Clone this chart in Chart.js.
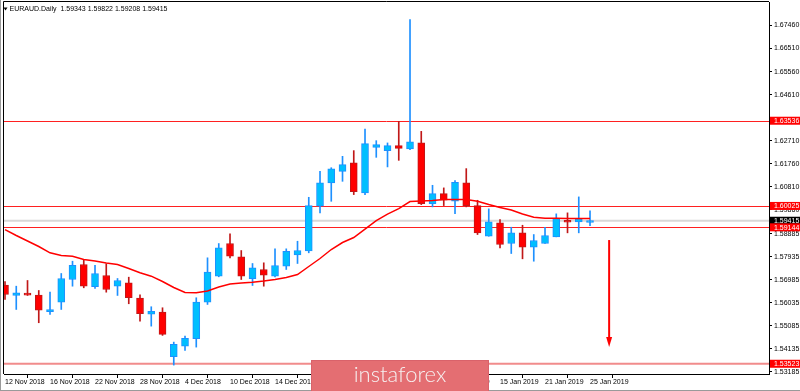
<!DOCTYPE html>
<html lang="en">
<head>
<meta charset="UTF-8">
<title>EURAUD Daily</title>
<script src="https://cdn.jsdelivr.net/npm/chart.js@4"></script>
<style>
    html, body { margin: 0; padding: 0; background: #fff; }
    #wrap { width: 800px; height: 391px; position: relative; }
</style>
</head>
<body>
<div id="wrap"><canvas id="chart" width="800" height="391"></canvas></div>
<script>
// daily bars, 12 Nov 2018 .. 25 Jan 2019
const dates = [
    '12 Nov 2018', '13 Nov 2018', '14 Nov 2018', '15 Nov 2018', '16 Nov 2018',
    '19 Nov 2018', '20 Nov 2018', '21 Nov 2018', '22 Nov 2018', '23 Nov 2018',
    '26 Nov 2018', '27 Nov 2018', '28 Nov 2018', '29 Nov 2018', '30 Nov 2018',
    '3 Dec 2018', '4 Dec 2018', '5 Dec 2018', '6 Dec 2018', '7 Dec 2018',
    '10 Dec 2018', '11 Dec 2018', '12 Dec 2018', '13 Dec 2018', '14 Dec 2018',
    '17 Dec 2018', '18 Dec 2018', '19 Dec 2018', '20 Dec 2018', '21 Dec 2018',
    '24 Dec 2018', '26 Dec 2018', '27 Dec 2018', '28 Dec 2018', '31 Dec 2018',
    '2 Jan 2019', '3 Jan 2019', '4 Jan 2019', '7 Jan 2019', '8 Jan 2019',
    '9 Jan 2019', '10 Jan 2019', '11 Jan 2019', '14 Jan 2019', '15 Jan 2019',
    '16 Jan 2019', '17 Jan 2019', '18 Jan 2019', '21 Jan 2019', '22 Jan 2019',
    '23 Jan 2019', '24 Jan 2019', '25 Jan 2019'
];
const opens = [
    1.56760, 1.56337, 1.56419, 1.56349, 1.55666, 1.56061, 1.56995, 1.57612, 1.56695, 1.57160,
    1.56719, 1.56859, 1.56226, 1.55567, 1.55649, 1.53814, 1.54250, 1.54555, 1.56061, 1.57131,
    1.58476, 1.57929, 1.57024, 1.57407, 1.57131, 1.57542, 1.58003, 1.58168, 1.60012, 1.60974,
    1.61452, 1.61797, 1.60563, 1.62439, 1.62304, 1.62509, 1.62374, 1.62621, 1.60123, 1.60534,
    1.60217, 1.60974, 1.60040, 1.58777, 1.59328, 1.58476, 1.58917, 1.58324, 1.58476, 1.58752,
    1.59435, 1.59370, 1.59343
];
const highs = [
    1.56913, 1.56719, 1.56954, 1.56542, 1.56472, 1.57242, 1.57748, 1.57818, 1.57583, 1.57641,
    1.57036, 1.57090, 1.56365, 1.55872, 1.55830, 1.54415, 1.54662, 1.56242, 1.57888, 1.58476,
    1.58876, 1.58188, 1.57654, 1.57682, 1.58258, 1.58258, 1.58571, 1.60382, 1.61452, 1.61600,
    1.62069, 1.62304, 1.63197, 1.62715, 1.62621, 1.63509, 1.67700, 1.63098, 1.60876, 1.60769,
    1.61069, 1.61563, 1.60258, 1.59905, 1.59464, 1.59147, 1.59230, 1.58847, 1.59147, 1.59699,
    1.59740, 1.60398, 1.59822
];
const lows = [
    1.56172, 1.55760, 1.56337, 1.55213, 1.55555, 1.55760, 1.56719, 1.56653, 1.56625, 1.56472,
    1.56337, 1.55995, 1.55279, 1.55073, 1.54691, 1.53468, 1.54073, 1.54209, 1.55966, 1.57106,
    1.57888, 1.56995, 1.56748, 1.56719, 1.57106, 1.57407, 1.57654, 1.58094, 1.59740, 1.60217,
    1.61040, 1.60493, 1.60493, 1.62028, 1.61633, 1.61904, 1.62345, 1.60081, 1.59987, 1.60040,
    1.59711, 1.59987, 1.58847, 1.58777, 1.58300, 1.58065, 1.57847, 1.57748, 1.58476, 1.58752,
    1.58917, 1.58917, 1.59208
];
const closes = [
    1.56378, 1.56448, 1.56349, 1.55732, 1.55760, 1.57036, 1.57583, 1.56719, 1.57242, 1.56583,
    1.56954, 1.56242, 1.55583, 1.55678, 1.54732, 1.54320, 1.54567, 1.56061, 1.57296, 1.58300,
    1.57954, 1.57131, 1.57477, 1.57172, 1.57571, 1.58160, 1.58188, 1.60040, 1.60974, 1.61551,
    1.61728, 1.60616, 1.62592, 1.62551, 1.62509, 1.62398, 1.62662, 1.60123, 1.60534, 1.60258,
    1.60999, 1.60040, 1.58917, 1.59370, 1.58435, 1.58917, 1.58324, 1.58600, 1.58806, 1.59505,
    1.59353, 1.59493, 1.59415
];
// moving average (red line)
const ma = [
    1.59053, 1.58806, 1.58579, 1.58353, 1.58094, 1.57983, 1.57954, 1.57818, 1.57756, 1.57674,
    1.57612, 1.57448, 1.57271, 1.57131, 1.56913, 1.56666, 1.56460, 1.56448, 1.56522, 1.56686,
    1.56810, 1.56851, 1.56884, 1.56933, 1.56995, 1.57077, 1.57201, 1.57530, 1.57859, 1.58230,
    1.58518, 1.58723, 1.59073, 1.59423, 1.59690, 1.59917, 1.60205, 1.60226, 1.60246, 1.60287,
    1.60287, 1.60287, 1.60217, 1.60081, 1.59958, 1.59855, 1.59690, 1.59559, 1.59518, 1.59518,
    1.59505, 1.59505, 1.59505
];
const yTicks = [
    1.67460, 1.66510, 1.65560, 1.64610, 1.62710, 1.61760, 1.60810, 1.59860,
    1.58885, 1.57935, 1.56985, 1.56035, 1.55085, 1.54135, 1.53185
];
const xTickIdx = [0, 4, 8, 12, 16, 20, 24, 28, 32, 36, 40, 44, 48, 52];
const levels = [1.63536, 1.60025, 1.59144];
const supportLevel = 1.53523;
const bid = 1.59415;
const arrow = { x: 53.7, from: 1.5862, to: 1.5421 };

const BULL = '#00BFFF', BULL_EDGE = '#1E90FF';
const BEAR = '#FF0000', BEAR_EDGE = '#C01818';
const FONT = 'Liberation Sans';

const isBull = opens.map((o, i) => closes[i] >= o);

function hline(ctx, x1, x2, y) {
    ctx.beginPath();
    ctx.moveTo(x1, y);
    ctx.lineTo(x2, y);
    ctx.stroke();
}

function tag(ctx, area, y, text, bg) {
    ctx.fillStyle = bg;
    ctx.fillRect(area.right + 1, y - 4, 31, 8);
    ctx.fillStyle = '#fff';
    ctx.font = '7px ' + FONT;
    ctx.textAlign = 'left';
    ctx.textBaseline = 'middle';
    ctx.fillText(text, area.right + 5, y + 0.5);
}

// no extra label padding, so the plot box is exactly where the picture has it
function noPad(s) {
    s.paddingTop = 0;
    s.paddingBottom = 0;
    s.paddingLeft = 0;
    s.paddingRight = 0;
}

const overlay = {
    id: 'overlay',
    beforeDatasetsDraw(chart) {
        const { ctx, chartArea: a, scales: { y } } = chart;
        ctx.save();
        ctx.strokeStyle = '#D8D8D8';
        ctx.lineWidth = 2;
        hline(ctx, a.left, a.right, y.getPixelForValue(bid));
        ctx.strokeStyle = 'rgba(238,120,120,0.85)';
        ctx.lineWidth = 2;
        hline(ctx, a.left, a.right, y.getPixelForValue(supportLevel));
        ctx.strokeStyle = '#FF2020';
        ctx.lineWidth = 1;
        levels.forEach(v => hline(ctx, a.left, a.right, Math.round(y.getPixelForValue(v)) + 0.5));
        ctx.restore();
    },
    afterDraw(chart) {
        const { ctx, chartArea: a, scales: { x, y } } = chart;
        ctx.save();

        // frame
        ctx.strokeStyle = '#000';
        ctx.lineWidth = 1;
        ctx.beginPath();
        ctx.moveTo(a.left - 0.5, a.bottom);
        ctx.lineTo(a.left - 0.5, a.top - 0.5);
        ctx.lineTo(a.right, a.top - 0.5);
        ctx.stroke();
        ctx.strokeStyle = '#9a9a9a';
        ctx.beginPath();
        ctx.moveTo(0.5, 0);
        ctx.lineTo(0.5, 391);
        ctx.moveTo(0, 390.5);
        ctx.lineTo(800, 390.5);
        ctx.stroke();

        // arrow
        const ax = x.getPixelForValue(arrow.x);
        const ay1 = y.getPixelForValue(arrow.from);
        const ay2 = y.getPixelForValue(arrow.to);
        ctx.strokeStyle = '#FF0000';
        ctx.fillStyle = '#FF0000';
        ctx.lineWidth = 2;
        ctx.beginPath();
        ctx.moveTo(ax, ay1);
        ctx.lineTo(ax, ay2 - 8);
        ctx.stroke();
        ctx.beginPath();
        ctx.moveTo(ax - 3, ay2 - 10);
        ctx.lineTo(ax + 3, ay2 - 10);
        ctx.lineTo(ax, ay2);
        ctx.closePath();
        ctx.fill();

        // price tags
        tag(ctx, a, y.getPixelForValue(bid), bid.toFixed(5), '#000');
        levels.forEach(v => tag(ctx, a, y.getPixelForValue(v), v.toFixed(5), '#FF0000'));
        tag(ctx, a, y.getPixelForValue(supportLevel), supportLevel.toFixed(5), '#FF0000');

        // header
        const last = opens.length - 1;
        ctx.fillStyle = '#000';
        ctx.beginPath();
        ctx.moveTo(3.5, 7.5);
        ctx.lineTo(7.5, 7.5);
        ctx.lineTo(5.5, 10.5);
        ctx.closePath();
        ctx.fill();
        ctx.font = '7px ' + FONT;
        ctx.textAlign = 'left';
        ctx.textBaseline = 'middle';
        const ohlc = [opens[last], highs[last], lows[last], closes[last]].map(v => v.toFixed(5)).join(' ');
        ctx.fillText('EURAUD.Daily  ' + ohlc, 9.5, 9.5);

        // logo
        ctx.fillStyle = '#E46E72';
        ctx.fillRect(311, 360, 178, 31);
        ctx.strokeStyle = '#D9626A';
        ctx.lineWidth = 1;
        ctx.strokeRect(311.5, 360.5, 177, 31);
        ctx.fillStyle = '#F6F0F0';
        ctx.font = '300 22px Lato';
        ctx.textAlign = 'center';
        ctx.textBaseline = 'alphabetic';
        ctx.fillText('instaforex', 400, 382);

        ctx.restore();
    }
};

const ctx = document.getElementById('chart').getContext('2d');
Chart.defaults.font.family = FONT;

new Chart(ctx, {
    type: 'bar',
    data: {
        datasets: [
            {
                type: 'line',
                label: 'MA',
                data: ma.map((v, i) => ({ x: i, y: v })),
                borderColor: '#FF0000',
                borderWidth: 1.5,
                pointRadius: 0,
                tension: 0
            },
            {
                label: 'body',
                data: opens.map((o, i) => ({ x: i, y: [o, closes[i]] })),
                backgroundColor: isBull.map(b => b ? BULL : BEAR),
                borderColor: isBull.map(b => b ? BULL_EDGE : BEAR_EDGE),
                borderWidth: 1,
                borderSkipped: false,
                barThickness: 7,
                minBarLength: 2,
                grouped: false
            },
            {
                label: 'wick',
                data: lows.map((l, i) => ({ x: i, y: [l, highs[i]] })),
                backgroundColor: isBull.map(b => b ? BULL_EDGE : BEAR_EDGE),
                barThickness: 1,
                grouped: false
            }
        ]
    },
    options: {
        responsive: false,
        animation: false,
        layout: { padding: { top: 2, left: 4, right: 0, bottom: 0 } },
        plugins: { legend: { display: false }, tooltip: { enabled: false } },
        scales: {
            x: {
                type: 'linear',
                offset: false,
                min: -0.09,
                max: 67.91,
                afterBuildTicks: s => { s.ticks = xTickIdx.map(v => ({ value: v })); },
                afterFit: s => { s.height = 17; noPad(s); },
                ticks: {
                    autoSkip: false,
                    maxRotation: 0,
                    align: 'start',
                    padding: 0,
                    color: '#000',
                    font: { size: 7 },
                    callback: v => dates[v]
                },
                grid: { drawOnChartArea: false, tickLength: 4, color: '#000' },
                border: { color: '#000' }
            },
            y: {
                type: 'linear',
                position: 'right',
                min: 1.53101,
                max: 1.68428,
                afterBuildTicks: s => { s.ticks = yTicks.map(v => ({ value: v })); },
                afterFit: s => { s.width = 31; noPad(s); },
                ticks: {
                    autoSkip: false,
                    padding: 2,
                    color: '#000',
                    font: { size: 7 },
                    callback: v => v.toFixed(5)
                },
                grid: { drawOnChartArea: false, tickLength: 3, color: '#000' },
                border: { color: '#000' }
            }
        }
    },
    plugins: [overlay]
});
</script>
</body>
</html>
